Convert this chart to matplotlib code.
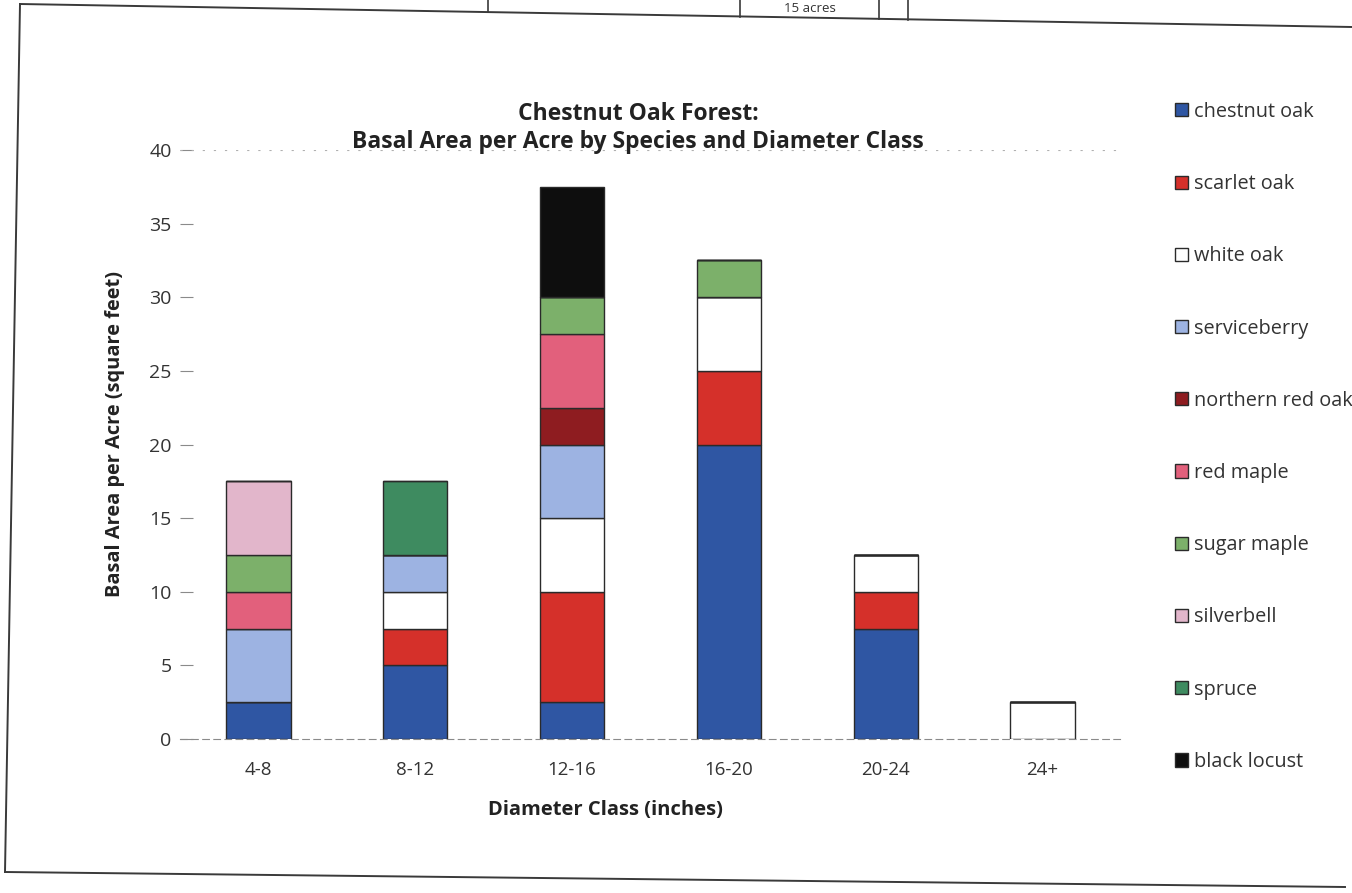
import matplotlib
matplotlib.use("Agg")
import matplotlib.pyplot as plt
import numpy as np

categories = ["4-8", "8-12", "12-16", "16-20", "20-24", "24+"]
species = ["chestnut oak", "scarlet oak", "white oak", "serviceberry",
           "northern red oak", "red maple", "sugar maple", "silverbell",
           "spruce", "black locust"]
chestnut_oak = [2.5, 5.0, 2.5, 20.0, 7.5, 0.0]
scarlet_oak = [0.0, 2.5, 7.5, 5.0, 2.5, 0.0]
white_oak = [0.0, 2.5, 5.0, 5.0, 2.5, 2.5]
serviceberry = [5.0, 2.5, 5.0, 0.0, 0.0, 0.0]
northern_red_oak = [0.0, 0.0, 2.5, 0.0, 0.0, 0.0]
red_maple = [2.5, 0.0, 5.0, 0.0, 0.0, 0.0]
sugar_maple = [2.5, 0.0, 2.5, 2.5, 0.0, 0.0]
silverbell = [5.0, 0.0, 0.0, 0.0, 0.0, 0.0]
spruce = [0.0, 5.0, 0.0, 0.0, 0.0, 0.0]
black_locust = [0.0, 0.0, 7.5, 0.0, 0.0, 0.0]
series = [chestnut_oak, scarlet_oak, white_oak, serviceberry, northern_red_oak,
          red_maple, sugar_maple, silverbell, spruce, black_locust]
colors = ["#2F56A3", "#D5302A", "#FFFFFF", "#9DB3E2", "#8E1C20",
          "#E2607C", "#7CB06A", "#E2B6CB", "#3E8B60", "#0E0E0E"]

plt.rcParams['font.family'] = ['Open Sans', 'DejaVu Sans']

W, H = 1352, 893
fig = plt.figure(figsize=(W / 100, H / 100), dpi=100)
ax = fig.add_axes([180 / W, 1 - 739 / H, 941 / W, 589 / H])

x = np.arange(len(categories))
bottom = np.zeros(len(categories))
handles = []
for name, vals, c in zip(species, series, colors):
    vals = np.array(vals)
    h = ax.bar(x, vals, width=0.41, bottom=bottom, color=c,
               edgecolor="#2a2a2a", linewidth=1.0, label=name)
    handles.append(h)
    bottom = bottom + vals

ax.set_xlim(-0.5, 5.5)
ax.set_ylim(0, 40)
ax.set_yticks(np.arange(0, 41, 5))
ax.set_xticks(x)
ax.set_xticklabels(categories, fontsize=13.5)
ax.tick_params(axis='y', labelsize=14, length=9, direction='in', color="#8a8a8a",
               labelcolor="#333333", pad=6)
ax.tick_params(axis='x', length=0, pad=16, labelcolor="#333333")
for s in ["top", "right", "left"]:
    ax.spines[s].set_visible(False)
ax.spines["bottom"].set_color("#8a8a8a")
ax.spines["bottom"].set_linestyle((0, (6, 4)))
ax.spines["bottom"].set_linewidth(0.8)
ax.axhline(40, color="#b0b0b0", linewidth=0.8, linestyle=(0, (2, 8)))
ax.set_axisbelow(True)

ax.set_ylabel("Basal Area per Acre (square feet)", fontsize=14.4,
              fontweight="bold", color="#222222")
ax.yaxis.label.set_va("center")
ax.yaxis.label.set_ha("center")
ax.yaxis.set_label_coords((115 - 180) / 941, (739 - 434) / 589)
ax.set_xlabel("Diameter Class (inches)", fontsize=14.5, fontweight="bold",
              color="#222222")
ax.xaxis.label.set_va("center")
ax.xaxis.set_label_coords((605 - 180) / 941, (739 - 810) / 589)

fig.text(638 / W, 1 - 128 / H,
         "Chestnut Oak Forest:\nBasal Area per Acre by Species and Diameter Class",
         ha="center", va="center", fontsize=16.5, fontweight="bold",
         color="#222222", linespacing=1.2)

leg = fig.legend(handles=handles, labels=species, loc="upper left",
                 bbox_to_anchor=(1157 / W, 0.906), frameon=False,
                 fontsize=14.3, handlelength=0.64, handleheight=0.64,
                 handletextpad=0.33, labelspacing=2.63)
for t in leg.get_texts():
    t.set_color("#333333")


def px_line(x0, y0, x1, y1, lw=1.4, color="#3a3a3a"):
    fig.add_artist(plt.Line2D([x0 / W, x1 / W], [1 - y0 / H, 1 - y1 / H],
                              transform=fig.transFigure, color=color,
                              linewidth=lw))


# scanned page frame and table fragment
px_line(20, 4, W, 27)
px_line(20, 4, 5, 872)
px_line(5, 872, 1345, 887)
for xv, yv in [(488, 12), (740, 16.5), (879, 19), (908, 19.5)]:
    px_line(xv, 0, xv, yv, lw=1.2)
fig.text(810 / W, 1 - 8 / H, "15 acres", ha="center", va="center", fontsize=9.5,
         color="#333333")

fig.savefig("out.png", dpi=100, facecolor="white")
